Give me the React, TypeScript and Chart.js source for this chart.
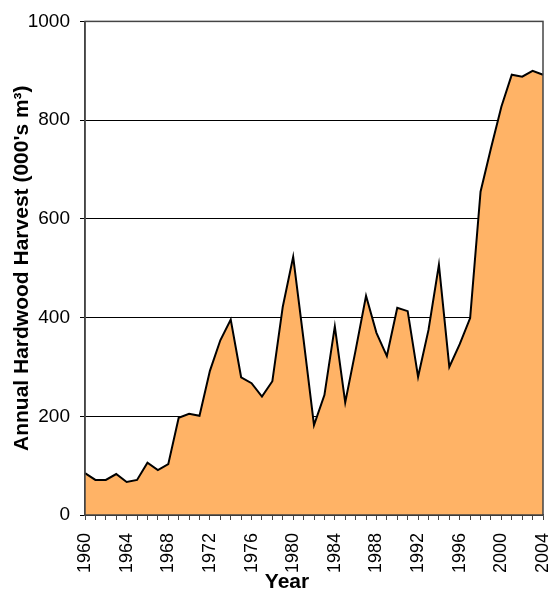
import React, { useEffect, useRef } from "react";
import { Chart, registerables } from "chart.js";

Chart.register(...registerables);

const years: string[] = [
  "1960","1961","1962","1963","1964","1965","1966","1967","1968","1969",
  "1970","1971","1972","1973","1974","1975","1976","1977","1978","1979",
  "1980","1981","1982","1983","1984","1985","1986","1987","1988","1989",
  "1990","1991","1992","1993","1994","1995","1996","1997","1998","1999",
  "2000","2001","2002","2003","2004",
];

const harvest: number[] = [
  85, 71, 71, 83, 67, 71, 106, 91, 103, 197,
  205, 201, 292, 354, 396, 279, 267, 240, 271, 422,
  523, 355, 182, 243, 382, 228, 334, 444, 369, 322,
  420, 413, 280, 375, 507, 300, 346, 399, 655, 743,
  827, 892, 888, 900, 892,
];

const yTitle = "Annual Hardwood Harvest (000's m\u00B3)";
const xTitle = "Year";

const FONT = "'Liberation Sans', Arial, sans-serif";

const frame = {
  id: "frame",
  afterDatasetsDraw(chart: any) {
    const { ctx, chartArea } = chart;
    ctx.save();
    ctx.strokeStyle = "#444";
    ctx.lineWidth = 1.5;
    ctx.strokeRect(chartArea.left, chartArea.top, chartArea.right - chartArea.left, chartArea.bottom - chartArea.top);
    ctx.restore();
  },
};

const xTitlePlugin = {
  id: "xTitle",
  afterDraw(chart: any) {
    const { ctx, chartArea } = chart;
    ctx.save();
    ctx.font = `bold 21px ${FONT}`;
    ctx.fillStyle = "#000";
    ctx.textAlign = "center";
    ctx.textBaseline = "middle";
    ctx.fillText(xTitle, (chartArea.left + chartArea.right) / 2 - 27, chart.height - 10);
    ctx.restore();
  },
};

export default function App() {
  const ref = useRef<HTMLCanvasElement>(null);
  useEffect(() => {
    document.body.style.margin = "0";
    const chart = new Chart(ref.current!, {
      type: "line",
      data: {
        labels: years,
        datasets: [
          {
            data: harvest,
            borderColor: "#000",
            borderWidth: 2,
            backgroundColor: "#FFB366",
            fill: "origin",
            pointRadius: 0,
            tension: 0,
          },
        ],
      },
      options: {
        animation: false,
        responsive: false,
        maintainAspectRatio: false,
        layout: { padding: { left: 0, right: 0, top: 12, bottom: 0 } },
        plugins: { legend: { display: false }, tooltip: { enabled: false } },
        scales: {
          x: {
            type: "category",
            offset: false,
            grid: { drawOnChartArea: false, drawTicks: true, tickLength: 5, color: "#444" },
            border: { color: "#444", width: 1.5 },
            afterFit: (s: any) => {
              s.paddingRight = 9;
              s.paddingLeft = 0;
              s.height = 77;
            },
            ticks: {
              autoSkip: false,
              maxRotation: 90,
              minRotation: 90,
              color: "#000",
              padding: 13,
              font: { family: FONT, size: 18 },
              callback: (_v: any, i: number) => (i % 4 === 0 ? years[i] : ""),
            },
            title: { display: false },
          },
          y: {
            min: 0,
            max: 1000,
            grid: { color: "#000", lineWidth: 1, tickLength: 5 },
            border: { color: "#444", width: 1.5 },
            afterFit: (s: any) => {
              s.width = 85;
            },
            ticks: { stepSize: 200, color: "#000", padding: 10, font: { family: FONT, size: 19 }, callback: (v: any) => String(v) },
            title: { display: true, text: yTitle, color: "#000", padding: { top: 10, bottom: 0 }, font: { family: FONT, size: 21, weight: "bold" } },
          },
        },
      },
      plugins: [frame, xTitlePlugin],
    });
    return () => chart.destroy();
  }, []);
  return (
    <div style={{ width: 552, height: 592 }}>
      <canvas ref={ref} width={552} height={592} style={{ display: "block" }} />
    </div>
  );
}
